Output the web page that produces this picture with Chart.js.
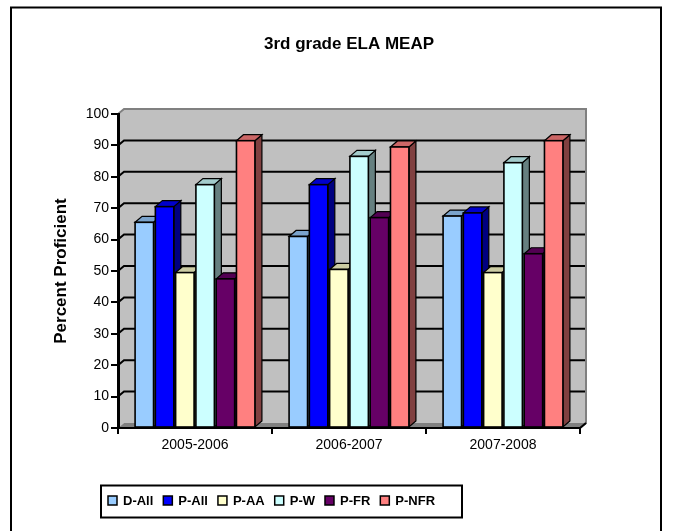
<!DOCTYPE html>
<html><head><meta charset="utf-8">
<script src="https://cdn.jsdelivr.net/npm/chart.js@4/dist/chart.umd.min.js"></script>
<style>html,body{margin:0;padding:0;background:#fff;}#wrap{width:675px;height:531px;position:relative;}</style>
</head><body><div id="wrap"><canvas id="c" width="675" height="531"></canvas></div>
<script>
// ---- data ----
const categories = ['2005-2006', '2006-2007', '2007-2008'];
const seriesNames = ['D-All', 'P-All', 'P-AA', 'P-W', 'P-FR', 'P-NFR'];
const dAll  = [65.5, 61, 67.5];
const pAll  = [70.5, 77.5, 68.5];
const pAA   = [49.5, 50.5, 49.5];
const pW    = [77.5, 86.5, 84.5];
const pFR   = [47.5, 67, 55.5];
const pNFR  = [91.5, 89.5, 91.5];
const yTickValues = [0, 10, 20, 30, 40, 50, 60, 70, 80, 90, 100];
const chartTitle = '3rd grade ELA MEAP';
const yAxisTitle = 'Percent Proficient';

// ---- styles ----
const FAMILY = "'Liberation Sans', Arial, sans-serif";
const frontColors = ['#99CCFF', '#0000FF', '#FFFFCC', '#CCFFFF', '#660066', '#FF8080'];
const topColors   = ['#7AA3CC', '#0000CC', '#CCCCA3', '#A3CCCC', '#520052', '#CC6666'];
const sideColors  = ['#4D6680', '#000080', '#808066', '#668080', '#330033', '#804040'];
const WX = 6, WY = -5;   // wall depth offset
const BX = 7, BY = -6;   // bar depth offset

const seriesValues = [dAll, pAll, pAA, pW, pFR, pNFR];

function poly(ctx, pts) {
  ctx.beginPath();
  ctx.moveTo(pts[0][0], pts[0][1]);
  for (let k = 1; k < pts.length; k++) ctx.lineTo(pts[k][0], pts[k][1]);
  ctx.closePath();
}

const wallPlugin = {
  id: 'wall3d',
  beforeDraw(chart) {
    const {ctx, chartArea: a, scales: {y}} = chart;
    const L = a.left, R = a.right;
    const T = y.getPixelForValue(100), B = y.getPixelForValue(0);
    ctx.save();
    ctx.fillStyle = '#C0C0C0';
    poly(ctx, [[L, T], [L + WX, T + WY], [L + WX, B + WY], [L, B]]); ctx.fill();
    ctx.fillRect(L + WX, T + WY, R - L, B - T);
    ctx.fillStyle = '#808080';
    poly(ctx, [[L, B], [L + WX, B + WY], [R + WX, B + WY], [R, B]]); ctx.fill();
    ctx.strokeStyle = '#000'; ctx.lineWidth = 2;
    y.ticks.forEach(t => {
      if (t.value <= 0 || t.value >= 100) return;
      const py = y.getPixelForValue(t.value);
      ctx.beginPath();
      ctx.moveTo(L, py); ctx.lineTo(L + WX, py + WY); ctx.lineTo(R + WX, py + WY);
      ctx.stroke();
    });
    ctx.strokeStyle = '#808080'; ctx.lineWidth = 2;
    ctx.beginPath();
    ctx.moveTo(L, T); ctx.lineTo(L + WX, T + WY); ctx.lineTo(R + WX, T + WY);
    ctx.lineTo(R + WX, B + WY); ctx.lineTo(R, B);
    ctx.stroke();
    ctx.restore();
  },
  afterDatasetsDraw(chart) {
    const {ctx, chartArea: a} = chart;
    const nCat = chart.data.labels.length;
    const nSet = chart.data.datasets.length;
    ctx.save();
    ctx.strokeStyle = '#000';
    ctx.lineJoin = 'miter';
    for (let j = 0; j < nCat; j++) {
      for (let i = 0; i < nSet; i++) {
        const el = chart.getDatasetMeta(i).data[j];
        const p = el.getProps(['x', 'y', 'base', 'width'], true);
        const x0 = p.x - p.width / 2, x1 = p.x + p.width / 2, yt = p.y, yb = p.base;
        ctx.lineWidth = 1.2;
        ctx.fillStyle = sideColors[i];
        poly(ctx, [[x1, yt], [x1 + BX, yt + BY], [x1 + BX, yb + BY], [x1, yb]]);
        ctx.fill(); ctx.stroke();
        ctx.fillStyle = topColors[i];
        poly(ctx, [[x0, yt], [x0 + BX, yt + BY], [x1 + BX, yt + BY], [x1, yt]]);
        ctx.fill(); ctx.stroke();
        ctx.lineWidth = 1.6;
        ctx.fillStyle = frontColors[i];
        ctx.fillRect(x0, yt, x1 - x0, yb - yt);
        ctx.strokeRect(x0, yt, x1 - x0, yb - yt);
      }
    }
    // front axis edges
    const B = a.bottom;
    ctx.lineWidth = 2;
    ctx.beginPath();
    ctx.moveTo(a.left, B); ctx.lineTo(a.right, B); ctx.lineTo(a.right + WX, B + WY);
    ctx.stroke();
    ctx.restore();
  },
  afterDraw(chart) {
    const {ctx} = chart;
    ctx.save();
    // outer border
    ctx.strokeStyle = '#000'; ctx.lineWidth = 2;
    ctx.strokeRect(11, 7.5, 650, 540);
    // legend
    ctx.strokeRect(101, 485.5, 361, 32);
    ctx.font = 'bold 13px ' + FAMILY;
    ctx.textBaseline = 'middle';
    let x = 108;
    const cy = 501;
    seriesNames.forEach((name, i) => {
      ctx.fillStyle = frontColors[i];
      ctx.fillRect(x, cy - 5, 9, 9);
      ctx.lineWidth = 1.5; ctx.strokeStyle = '#000';
      ctx.strokeRect(x, cy - 5, 9, 9);
      ctx.fillStyle = '#000';
      ctx.fillText(name, x + 15, cy);
      x += 15 + ctx.measureText(name).width + 10;
    });
    ctx.restore();
  }
};

Chart.defaults.color = '#000';
Chart.defaults.font.family = FAMILY;

new Chart(document.getElementById('c'), {
  type: 'bar',
  data: {
    labels: categories,
    datasets: seriesNames.map((name, i) => ({
      label: name,
      data: seriesValues[i],
      backgroundColor: frontColors[i],
      borderColor: '#000',
      borderWidth: 1
    }))
  },
  options: {
    responsive: false,
    animation: false,
    devicePixelRatio: 1,
    layout: { padding: { top: 34, left: 51, right: 95, bottom: 73 } },
    datasets: { bar: { categoryPercentage: 0.79, barPercentage: 0.91 } },
    plugins: {
      legend: { display: false },
      tooltip: { enabled: false },
      title: {
        display: true, text: chartTitle, fullSize: false,
        font: { size: 17, weight: 'bold', family: FAMILY }, color: '#000',
        padding: { top: 0, bottom: 59.6 }
      }
    },
    scales: {
      x: {
        grid: { offset: true, drawOnChartArea: false, drawTicks: true, tickLength: 6, color: '#000', lineWidth: 2 },
        border: { display: true, color: '#000', width: 2 },
        ticks: { font: { size: 14, family: FAMILY }, color: '#000', padding: 3 },
        afterFit(s) { s.height = 30; }
      },
      y: {
        min: 0, max: 100,
        afterBuildTicks(s) { s.ticks = yTickValues.map(v => ({ value: v })); },
        ticks: { font: { size: 14, family: FAMILY }, color: '#000', padding: 2 },
        grid: { drawOnChartArea: false, drawTicks: true, tickLength: 7, color: '#000', lineWidth: 2 },
        border: { display: true, color: '#000', width: 3 },
        title: { display: true, text: yAxisTitle, font: { size: 17, weight: 'bold', family: FAMILY }, color: '#000', padding: { top: 0, bottom: 0 } },
        afterFit(s) { s.width = 67; }
      }
    }
  },
  plugins: [wallPlugin]
});
</script></body></html>
